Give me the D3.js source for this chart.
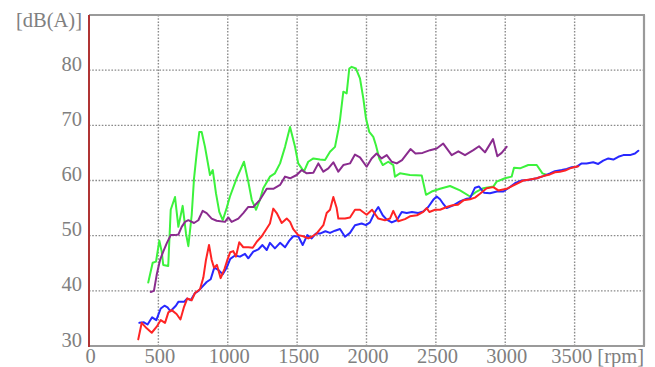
<!DOCTYPE html>
<html><head><meta charset="utf-8">
<script src="https://cdnjs.cloudflare.com/ajax/libs/d3/7.8.5/d3.min.js"></script>
<style>html,body{margin:0;padding:0;background:#fff;}svg{display:block;}
text{font-family:"Liberation Serif","DejaVu Serif","Times New Roman",serif;}</style>
</head><body>
<script>
const xTicks = [0, 500, 1000, 1500, 2000, 2500, 3000, 3500];
const xTickLabels = ["0", "500", "1000", "1500", "2000", "2500", "3000", "3500 [rpm]"];
const yTicks = [30, 40, 50, 60, 70, 80];
const yTickLabels = ["30", "40", "50", "60", "70", "80"];
const yUnitLabel = "[dB(A)]";

const greenRpm = [427,459,483,507,524,535,571,589,620,644,675,699,716,740,757,776,795,812,836,872,892,915,939,964,992,1016,1064,1117,1148,1173,1204,1232,1256,1304,1340,1377,1413,1449,1485,1508,1549,1580,1617,1665,1701,1737,1773,1797,1809,1833,1857,1876,1893,1924,1953,1977,1996,2020,2049,2068,2092,2117,2157,2193,2205,2241,2313,2398,2429,2470,2530,2602,2674,2746,2794,2842,2914,2938,2998,3046,3063,3106,3166,3227,3268,3301];
const greenDb = [41.5,45.1,45.3,49.1,47.1,44.7,44.5,54.7,57.0,51.6,55.4,50.4,48.1,53.7,60.4,64.9,68.8,68.8,66.1,61.0,61.9,57.7,54.3,52.8,55.0,57.1,60.4,63.4,59.8,56.5,54.7,56.5,58.6,60.7,61.3,63.1,66.1,69.7,66.1,63.1,61.6,63.4,64.0,63.8,63.7,65.2,66.1,69.2,71.0,76.1,75.8,80.3,80.6,80.3,78.5,74.9,71.3,68.8,67.9,66.4,64.0,62.8,63.4,62.8,60.7,61.3,61.0,60.9,57.4,58.0,58.5,59.0,58.2,57.1,58.0,58.6,58.9,59.8,60.4,60.7,62.3,62.2,62.8,62.8,61.3,61.0];

const purpleRpm = [445,468,488,512,535,560,589,620,644,668,692,716,757,788,819,848,884,920,980,1004,1028,1076,1112,1148,1184,1232,1281,1328,1377,1413,1449,1497,1533,1569,1617,1653,1689,1725,1761,1797,1833,1881,1917,1953,2001,2037,2073,2109,2146,2182,2218,2256,2317,2353,2404,2458,2506,2553,2614,2662,2710,2770,2811,2854,2912,2943,2974,3010];
const purpleDb = [39.8,40.0,42.9,45.6,47.1,48.6,50.1,50.1,50.2,51.6,52.5,52.8,52.3,52.8,54.5,54.1,53.1,52.7,52.5,53.3,52.5,53.1,54.1,55.2,55.2,56.5,58.5,58.5,59.2,60.7,60.4,61.0,61.9,61.3,61.4,63.1,61.6,62.2,63.3,61.6,62.8,63.1,64.7,64.2,62.5,64.0,64.9,64.0,64.6,63.4,63.1,63.7,65.7,64.9,65.0,65.5,65.8,66.7,64.6,65.3,64.6,65.5,66.2,65.1,67.5,64.4,65.0,66.1];

const blueRpm = [363,396,422,455,485,517,544,566,587,626,644,685,708,733,764,789,819,848,877,903,932,964,992,1018,1052,1088,1124,1148,1184,1220,1250,1281,1304,1340,1377,1413,1444,1472,1508,1540,1573,1605,1636,1668,1704,1737,1773,1809,1845,1881,1917,1965,1996,2025,2061,2085,2117,2146,2182,2218,2254,2290,2328,2373,2409,2445,2481,2506,2530,2555,2578,2625,2674,2722,2746,2782,2811,2847,2890,2940,2986,3022,3070,3118,3166,3227,3274,3322,3358,3407,3443,3479,3515,3551,3586,3634,3670,3706,3743,3779,3815,3851,3899,3935,3959];
const blueDb = [34.2,34.3,33.9,35.2,34.7,36.8,37.3,37.0,36.3,37.3,38.0,38.0,38.6,38.3,39.6,40.0,40.8,41.6,42.1,44.2,43.8,43.0,44.2,45.8,46.4,46.2,46.7,45.9,47.1,47.5,48.3,47.4,48.7,47.7,48.7,47.9,49.1,49.9,49.9,48.3,50.1,49.5,50.4,50.4,50.8,50.5,50.9,51.2,49.8,50.5,51.9,52.2,51.9,52.4,54.3,55.2,53.7,52.9,52.4,52.8,54.3,54.1,54.3,54.1,54.4,55.2,56.5,57.1,56.6,55.7,55.0,55.5,56.2,56.7,56.8,58.7,58.9,57.8,57.7,58.0,58.0,58.6,59.5,60.0,60.1,60.4,60.8,61.3,61.7,61.9,62.1,62.4,62.5,63.1,63.1,63.3,63.0,63.6,64.0,63.8,64.3,64.6,64.6,64.9,65.4];

const redRpm = [355,380,416,452,488,517,548,572,596,631,659,685,708,740,764,800,824,843,865,884,901,922,949,977,997,1018,1040,1059,1083,1112,1148,1180,1209,1245,1281,1304,1328,1353,1389,1425,1449,1472,1508,1544,1580,1605,1641,1689,1713,1737,1761,1785,1797,1845,1881,1917,1953,2001,2040,2085,2133,2169,2193,2229,2277,2313,2364,2409,2434,2453,2494,2530,2578,2620,2659,2698,2746,2782,2818,2866,2914,2950,3010,3049,3082,3130,3178,3227,3274,3322,3358,3394,3431,3467,3495,3527];
const redDb = [31.2,34.2,33.2,32.4,33.5,34.7,34.2,36.1,36.5,35.8,34.8,37.1,38.6,38.3,39.6,40.3,42.4,45.6,48.3,45.6,44.2,44.7,42.3,44.0,45.6,47.0,47.2,46.2,48.8,47.9,47.9,47.8,48.9,49.9,51.3,52.2,54.9,54.1,52.3,53.1,52.5,51.2,50.1,49.9,49.5,49.8,50.4,51.9,54.1,54.7,57.0,55.0,53.1,53.1,53.3,54.7,54.7,53.8,54.7,53.1,52.8,53.1,54.5,52.6,53.0,53.5,53.7,54.3,55.0,54.3,54.7,54.7,55.2,55.5,55.6,56.4,56.6,56.9,57.6,58.6,58.8,58.2,58.5,59.0,59.4,60.0,60.2,60.4,60.8,61.1,61.5,61.6,61.8,62.2,62.4,62.6];

const series = [
  {name: "green", rpm: greenRpm, db: greenDb, color: "#3cf23c"},
  {name: "purple", rpm: purpleRpm, db: purpleDb, color: "#8a2c8e"},
  {name: "blue", rpm: blueRpm, db: blueDb, color: "#2828ff"},
  {name: "red", rpm: redRpm, db: redDb, color: "#ff2424"}
];

const W = 655, H = 367;
const L = 89, R = 644, T = 15, B = 346;
const x = d3.scaleLinear().domain([0, 4000]).range([L, R]);
const y = d3.scaleLinear().domain([30, 90]).range([B, T]);

const svg = d3.select("body").append("svg").attr("width", W).attr("height", H);
const grey = "#808080";
const fs = 20.5;

// grid
svg.append("g").selectAll("line").data(xTicks.filter(v => v > 0)).join("line")
  .attr("x1", d => x(d)).attr("x2", d => x(d)).attr("y1", T).attr("y2", B)
  .attr("stroke", "#8a8a8a").attr("stroke-width", 1.4).attr("stroke-dasharray", "1.6,1.6");
svg.append("g").selectAll("line").data(yTicks.filter(v => v > 30)).join("line")
  .attr("x1", L).attr("x2", R).attr("y1", d => y(d)).attr("y2", d => y(d))
  .attr("stroke", "#8a8a8a").attr("stroke-width", 1.4).attr("stroke-dasharray", "1.6,1.6");

// frame
svg.append("line").attr("x1", L).attr("x2", R + 1).attr("y1", T).attr("y2", T).attr("stroke", "#9a9a9a").attr("stroke-width", 2.2);
svg.append("line").attr("x1", R).attr("x2", R).attr("y1", T).attr("y2", B).attr("stroke", "#9a9a9a").attr("stroke-width", 2.2);
svg.append("line").attr("x1", L).attr("x2", R + 1).attr("y1", B).attr("y2", B).attr("stroke", "#9a9a9a").attr("stroke-width", 2.2);

// series
const line = d3.line().x(d => x(d[0])).y(d => y(d[1]));
series.forEach(s => {
  const pts = s.rpm.map((r, i) => [r, s.db[i]]);
  svg.append("path").datum(pts).attr("d", line)
    .attr("fill", "none").attr("stroke", s.color).attr("stroke-width", 2)
    .attr("stroke-linejoin", "round").attr("stroke-linecap", "round");
});

// left axis line (dark red)
svg.append("line").attr("x1", L).attr("x2", L).attr("y1", T).attr("y2", B + 1).attr("stroke", "#b03434").attr("stroke-width", 2);

// y labels
svg.append("g").selectAll("text").data(yTicks).join("text")
  .attr("x", 82).attr("y", d => y(d) + 0.5)
  .attr("text-anchor", "end").attr("font-size", fs).attr("fill", grey)
  .text((d, i) => yTickLabels[i]);
svg.append("text").attr("x", 82).attr("y", 27).attr("text-anchor", "end")
  .attr("font-size", fs).attr("fill", grey).text(yUnitLabel);

// x labels
svg.append("g").selectAll("text").data(xTicks).join("text")
  .attr("x", (d, i) => i === xTicks.length - 1 ? x(4000) : x(d) + 1.5)
  .attr("y", 363)
  .attr("text-anchor", (d, i) => i === xTicks.length - 1 ? "end" : "middle")
  .attr("font-size", fs).attr("fill", grey)
  .text((d, i) => xTickLabels[i]);
</script>
</body></html>
